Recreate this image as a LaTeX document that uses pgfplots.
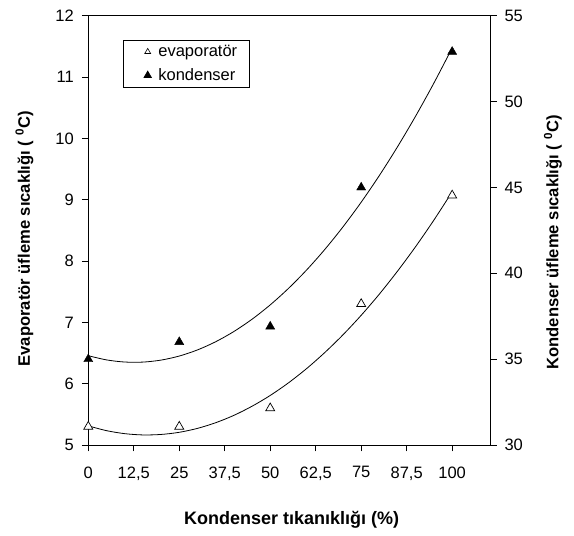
\documentclass[border=0pt]{standalone}
\usepackage{fontspec}
\setmainfont{Liberation Sans}
\usepackage{pgfplots}
\pgfplotsset{compat=1.18}

\pgfplotstableread{
x y
0 5.3
25 5.3
50 5.6
75 7.3
100 9.07
}\evapdata

\pgfplotstableread{
x y
0 35.0
25 36.0
50 36.9
75 45.0
100 52.9
}\konddata

\pgfplotstableread{
x y
0 5.312
5 5.234
10 5.185
15 5.164
20 5.172
25 5.207
30 5.271
35 5.363
40 5.483
45 5.632
50 5.808
55 6.013
60 6.246
65 6.508
70 6.797
75 7.115
80 7.461
85 7.836
90 8.238
95 8.669
100 9.128
}\evapfit

\pgfplotstableread{
x y
0 35.200
5 34.956
10 34.832
15 34.828
20 34.944
25 35.180
30 35.536
35 36.012
40 36.608
45 37.324
50 38.160
55 39.116
60 40.192
65 41.388
70 42.704
75 44.140
80 45.696
85 47.372
90 49.168
95 51.084
100 53.120
}\kondfit

\begin{document}
\begin{tikzpicture}
\path[use as bounding box] (-88.3pt,-91pt) rectangle (485.7pt,445pt);
\pgfplotsset{
  base/.style={
    scale only axis, width=401.7pt, height=429.3pt,
    xmin=0, xmax=110.4,
    font=\fontsize{16.5}{19}\selectfont,
    /pgf/number format/assume math mode=true,
    tick align=outside, major tick length=6.5pt,
    tick style={black, line width=0.8pt},
    axis line style={line width=0.9pt},
    every axis plot/.append style={black},
    xticklabel shift=11.5pt,
    yticklabel shift=4.5pt,
  }
}
\begin{axis}[base,
  ymin=5, ymax=12, ytick={5,6,...,12},
  xtick={0,12.5,25,37.5,50,62.5,75,87.5,100},
  xticklabels={0,{12,5},25,{37,5},50,{62,5},75,{87,5},100},
  xtick pos=bottom, ytick pos=left,
  xlabel={\fontsize{18}{21}\selectfont\bfseries Kondenser tıkanıklığı (\%)},
  ylabel={\fontsize{16.6}{19}\selectfont\bfseries Evaporatör üfleme sıcaklığı ( \textsuperscript{0}C)},
  xlabel style={at={(axis description cs:0.506,-0.1747)}, anchor=center},
  ylabel style={at={(axis description cs:-0.1588,0.48)}, anchor=center, rotate=0},
  legend style={at={(0.0856,0.9434)}, anchor=north west, draw=black, line width=0.8pt,
    font=\fontsize{16.5}{19}\selectfont, inner xsep=10pt, inner ysep=3pt, row sep=6.5pt,
    /tikz/every odd column/.append style={column sep=5pt}},
  legend cell align=left,
  legend image code/.code={\path (0cm,0cm) (0.6cm,0cm); \draw[#1] plot coordinates {(0.5cm,0cm)};},
]
\addlegendimage{only marks, mark=triangle, mark size=3.4pt, mark options={fill=white, line width=0.6pt}}
\addlegendentry{evaporatör}
\addlegendimage{only marks, mark=triangle*, mark size=4.2pt, mark options={fill=black}}
\addlegendentry{kondenser}
\addplot[no marks, line width=0.8pt, smooth] table {\evapfit};
\addplot[only marks, mark=triangle*, mark size=5.2pt, mark options={fill=white, draw=black, line width=0.7pt}] table {\evapdata};
\end{axis}
\begin{axis}[base,
  ymin=30, ymax=55, ytick={30,35,...,55},
  axis x line=none, axis y line*=right, ytick pos=right,
  ylabel={\fontsize{16.6}{19}\selectfont\bfseries Kondenser üfleme sıcaklığı ( \textsuperscript{0}C)},
  ylabel style={at={(axis description cs:1.1568,0.4717)}, anchor=center, rotate=0},
]
\addplot[no marks, line width=0.8pt, smooth] table {\kondfit};
\addplot[only marks, mark=triangle*, mark size=5.2pt, mark options={fill=black, draw=black}] table {\konddata};
\end{axis}
\end{tikzpicture}
\end{document}
